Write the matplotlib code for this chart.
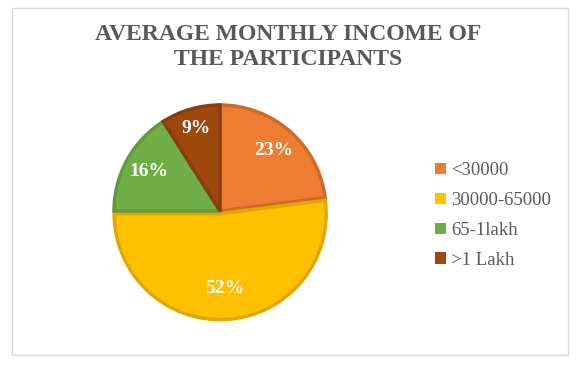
import matplotlib
matplotlib.use("Agg")
import matplotlib.pyplot as plt
from matplotlib.patches import Rectangle
import numpy as np

categories = ["<30000", "30000-65000", "65-1lakh", ">1 Lakh"]
values = [23, 52, 16, 9]
colors = ["#ED7D31", "#FFC000", "#70AD47", "#9E480E"]
edge_colors = ["#D0692A", "#E0A800", "#62993D", "#8A3E0C"]
title = "AVERAGE MONTHLY INCOME OF\nTHE PARTICIPANTS"

W, H = 581, 368
fig = plt.figure(figsize=(W / 100, H / 100), dpi=100)
fig.patch.set_facecolor("white")

# outer frame
fig.patches.append(Rectangle((12 / W, 1 - 355 / H), (568 - 12) / W, (355 - 8) / H,
                             transform=fig.transFigure, fill=False,
                             edgecolor="#D9D9D9", linewidth=1))

cx, cy, r = 220, 211, 106
ax = fig.add_axes([(cx - r) / W, (H - cy - r) / H, 2 * r / W, 2 * r / H])

explode = [0, 0.025, 0, 0]
wedges, texts, autotexts = ax.pie(values, colors=colors, startangle=90, counterclock=False,
                                  explode=explode, radius=1, autopct="%d%%", pctdistance=0.72,
                                  textprops=dict(color="white", family="Liberation Serif",
                                                 fontweight="bold", fontsize=14))
ax.set_xlim(-1, 1)
ax.set_ylim(-1, 1)
ax.axis("off")
for w, ec in zip(wedges, edge_colors):
    w.set_edgecolor(ec)
    w.set_linewidth(2.5)
    w.set_clip_on(False)

dists = [0.76, 0.71, 0.77, 0.81]
for w, t, d in zip(wedges, autotexts, dists):
    ang = np.deg2rad((w.theta1 + w.theta2) / 2)
    cxw, cyw = w.center
    t.set_position((cxw + d * np.cos(ang), cyw + d * np.sin(ang)))
    t.set_ha("center")
    t.set_va("center")

fig.text(288 / W, 1 - 47 / H, title, ha="center", va="center", family="Liberation Serif",
         fontweight="bold", fontsize=17, color="#595959", linespacing=1.25)

leg = fig.legend(wedges, categories, loc="upper left", bbox_to_anchor=(426 / W, 1 - 153 / H),
                 frameon=False, prop=dict(family="Liberation Serif", size=13.5),
                 handlelength=0.55, handleheight=0.55, handletextpad=0.3, labelspacing=0.68,
                 borderpad=0)
for t in leg.get_texts():
    t.set_color("#595959")
for h in leg.legend_handles:
    h.set_linewidth(0)

fig.savefig("out.png", dpi=100)
